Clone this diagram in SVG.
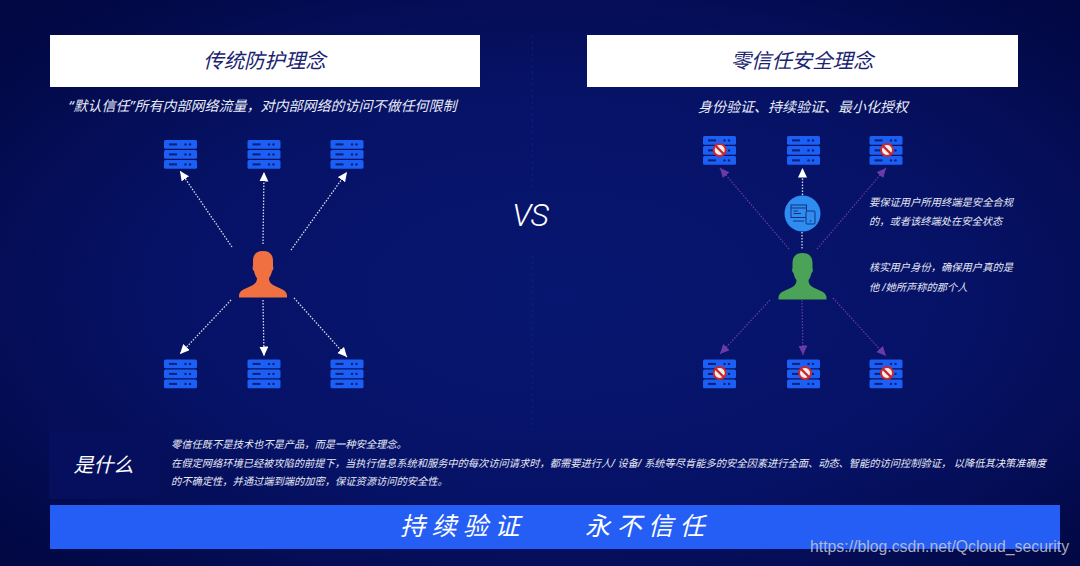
<svg xmlns="http://www.w3.org/2000/svg" width="1080" height="566" viewBox="0 0 1080 566">
<style>
text{font-family:"Noto Sans","Noto Sans CJK SC",sans-serif;font-style:italic;fill:#fff}
.title{font-size:20.400px;fill:#1a2470;text-anchor:middle}
.sub{font-size:14px;fill:#e8ebf6;text-anchor:middle}
.small{font-size:10.250px;fill:#e8ebf6}
.wl{fill:none;stroke:#d8dcec;stroke-width:1.3;stroke-dasharray:1.5 1.5}
.pl{fill:none;stroke:#6a3aa6;stroke-width:1.2;stroke-dasharray:1.5 1.5}
</style>
<defs>
<radialGradient id="bg" cx="52%" cy="52%" r="68%">
<stop offset="0" stop-color="#071670"/><stop offset="0.55" stop-color="#061266"/><stop offset="1" stop-color="#020844"/>
</radialGradient>
<marker id="aw" markerUnits="userSpaceOnUse" markerWidth="11" markerHeight="11" refX="9.500" refY="4.500" orient="auto"><path d="M0 0L9.500 4.500L0 9Z" fill="#fff"/></marker>
<marker id="ap" markerUnits="userSpaceOnUse" markerWidth="11" markerHeight="11" refX="9.500" refY="4.500" orient="auto"><path d="M0 0L9.500 4.500L0 9Z" fill="#6a3aa6"/></marker>
<g id="srv">
<rect x="0" y="0" width="33" height="8.800" rx="1.500" fill="#1b5ff5"/>
<rect x="0" y="10" width="33" height="8.800" rx="1.500" fill="#1b5ff5"/>
<rect x="0" y="20" width="33" height="8.800" rx="1.500" fill="#1b5ff5"/>
<g fill="#0a1f78"><rect x="5" y="3.400" width="8" height="2"/><circle cx="21.500" cy="4.400" r="1.200"/><circle cx="26" cy="4.400" r="1.200"/>
<rect x="5" y="13.400" width="8" height="2"/><circle cx="21.500" cy="14.400" r="1.200"/><circle cx="26" cy="14.400" r="1.200"/>
<rect x="5" y="23.400" width="8" height="2"/><circle cx="21.500" cy="24.400" r="1.200"/><circle cx="26" cy="24.400" r="1.200"/></g>
</g>
<g id="ban">
<circle cx="0" cy="0" r="6" fill="#f3eeee" stroke="#c9282d" stroke-width="2"/>
<path d="M-4 -4L4 4" stroke="#c9282d" stroke-width="2.400"/>
</g>
<path id="man" d="M24 0C17 0 14 4 14 10L14 15C13.300 16 13.500 19 15 20C15.500 23 17 26 18 27C18 30 17 32 14 34C9 37 1 38 0 44L0 46.500L48 46.500L48 44C47 38 39 37 34 34C31 32 30 30 30 27C31 26 32.500 23 33 20C34.500 19 34.700 16 34 15L34 10C34 4 31 0 24 0Z"/>
</defs>
<rect id="background" width="1080" height="566" fill="url(#bg)"/>
<path id="divider" d="M532.500 35V190M532.500 255V430" fill="none" stroke="#0c2a8c" stroke-opacity=".5" stroke-width="1" stroke-dasharray="3 3"/>

<g id="left-panel">
<rect x="50" y="35" width="430" height="52" fill="#fff"/>
<text class="title" x="264.500" y="68">传统防护理念</text>
<text class="sub" x="262.500" y="111">“默认信任”所有内部网络流量，对内部网络的访问不做任何限制</text>
</g>
<g id="right-panel">
<rect x="587" y="35" width="431" height="52" fill="#fff"/>
<text class="title" x="802" y="68">零信任安全理念</text>
<text class="sub" x="803" y="111.500">身份验证、持续验证、最小化授权</text>
</g>
<text id="vs" x="530" y="226" font-size="32" text-anchor="middle" letter-spacing="-1" style="font-family:Roboto,sans-serif;font-weight:300">VS</text>

<g id="connectors">
<path class="wl" marker-end="url(#aw)" d="M232 247L180 171"/>
<path class="wl" marker-end="url(#aw)" d="M263 244L264 172"/>
<path class="wl" marker-end="url(#aw)" d="M291 250L347 172"/>
<path class="wl" marker-end="url(#aw)" d="M231 300L180 354"/>
<path class="wl" marker-end="url(#aw)" d="M263 300L264 356"/>
<path class="wl" marker-end="url(#aw)" d="M294 298L347 357"/>
<path class="pl" marker-end="url(#ap)" d="M789 249L720 168"/>
<path class="pl" marker-end="url(#ap)" d="M817 249L886 168"/>
<path class="pl" marker-end="url(#ap)" d="M770 300L720 354"/>
<path class="pl" marker-end="url(#ap)" d="M802 300L803 355"/>
<path class="pl" marker-end="url(#ap)" d="M833 298L886 356"/>
<path class="wl" marker-end="url(#aw)" d="M802.500 195L802.500 168"/>
<path class="wl" d="M802 232L802 250"/>
</g>

<g id="s1"><use href="#srv" x="164" y="140"/></g>
<g id="s2"><use href="#srv" x="247.500" y="140"/></g>
<g id="s3"><use href="#srv" x="330.500" y="140"/></g>
<g id="s4"><use href="#srv" x="164" y="359.500"/></g>
<g id="s5"><use href="#srv" x="247.500" y="359.500"/></g>
<g id="s6"><use href="#srv" x="330.500" y="359.500"/></g>
<g id="user-left" fill="#f07042"><use href="#man" x="239" y="251"/></g>

<g id="z1"><use href="#srv" x="703" y="136"/><use href="#ban" x="719.700" y="150"/></g>
<g id="z2"><use href="#srv" x="787" y="136"/></g>
<g id="z3"><use href="#srv" x="869.500" y="136"/><use href="#ban" x="887" y="150"/></g>
<g id="z4"><use href="#srv" x="703" y="359.500"/><use href="#ban" x="719.700" y="373"/></g>
<g id="z5"><use href="#srv" x="787" y="359.500"/><use href="#ban" x="805" y="373"/></g>
<g id="z6"><use href="#srv" x="869.500" y="359.500"/><use href="#ban" x="887" y="373"/></g>
<g id="user-right" fill="#4aa356"><use href="#man" x="778.500" y="253"/></g>

<g id="device">
<circle cx="802.500" cy="213.500" r="18" fill="#2f8cf0"/>
<g fill="none" stroke="#12307f" stroke-width="1">
<rect x="791" y="205" width="15.500" height="12.500"/>
<path d="M791 208H806.500M793.500 211H798M793.500 213.500H801M793 221H804"/>
<rect x="806" y="211" width="9" height="13" rx="1" fill="#2f8cf0"/>
</g>
<circle cx="810.500" cy="221" r="0.800" fill="#12307f"/>
</g>

<g id="side-notes">
<text class="small" x="869" y="205.500" textLength="144">要保证用户所用终端是安全合规</text>
<text class="small" x="869" y="225">的，或者该终端处在安全状态</text>
<text class="small" x="869" y="271" textLength="144">核实用户身份，确保用户真的是</text>
<text class="small" x="869" y="291">他 /她所声称的那个人</text>
</g>

<g id="what">
<rect x="49" y="431" width="110" height="68" fill="#050f5e"/>
<text x="103.500" y="472" font-size="20" text-anchor="middle">是什么</text>
<text class="small" x="171" y="447.500">零信任既不是技术也不是产品，而是一种安全理念。</text>
<text class="small" x="171" y="467" textLength="875">在假定网络环境已经被攻陷的前提下，当执行信息系统和服务中的每次访问请求时，都需要进行人/ 设备/ 系统等尽肯能多的安全因素进行全面、动态、智能的访问控制验证， 以降低其决策准确度</text>
<text class="small" x="171" y="485">的不确定性，并通过端到端的加密，保证资源访问的安全性。</text>
</g>

<g id="banner">
<rect x="50" y="505" width="1010" height="44" fill="#245ef5"/>
<text x="400" y="535" font-size="25" letter-spacing="6.500">持续验证</text>
<text x="585" y="535" font-size="25" letter-spacing="6.500">永不信任</text>
</g>
<text id="watermark" x="810" y="552" font-size="15.800" style="font-family:'Liberation Sans',sans-serif;font-style:normal;fill:#c9cbd6;fill-opacity:.85">https://blog.csdn.net/Qcloud_security</text>
</svg>
